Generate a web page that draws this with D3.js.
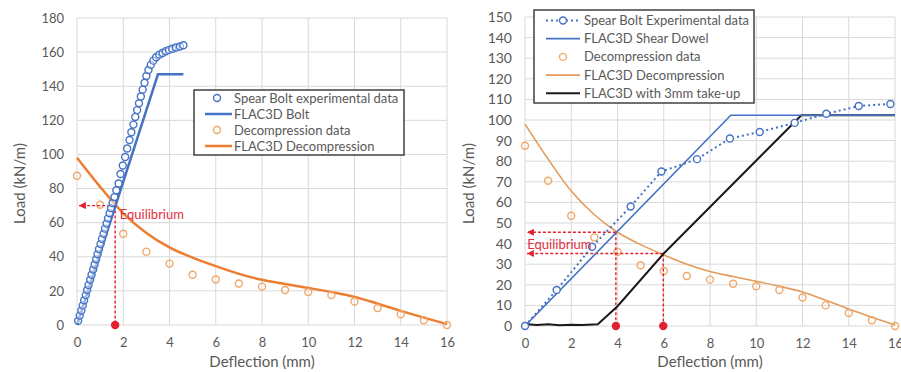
<!DOCTYPE html>
<html><head><meta charset="utf-8">
<script src="https://cdn.jsdelivr.net/npm/d3@7"></script>
<style>
body{margin:0;background:#fff;}
svg text{font-family:Lato,"Open Sans",sans-serif;fill:#595959;}
</style></head><body>
<svg id="c" width="901" height="372"></svg>
<script>
// ---------- DATA ----------
const xTicks = [0,2,4,6,8,10,12,14,16];
const leftYTicks = [0,20,40,60,80,100,120,140,160,180];
const rightYTicks = [0,10,20,30,40,50,60,70,80,90,100,110,120,130,140,150];

// Left chart
const spearBoltExp = [
 [0.05,2.5],[0.12,5.5],[0.19,8.5],[0.25,11.5],[0.31,14.5],[0.38,17.5],[0.44,20.5],[0.50,23.5],
 [0.57,26.5],[0.63,29.5],[0.70,32.5],[0.76,35.5],[0.83,38.5],[0.89,41.5],[0.95,44.5],[1.02,47.5],
 [1.08,50.5],[1.15,53.5],[1.21,56.5],[1.28,59.5],[1.34,62.5],[1.41,65.5],[1.47,68.5],[1.54,71.5],
 [1.62,75],[1.70,79],[1.80,83],[1.88,88.5],[1.98,93.5],[2.08,98.5],[2.17,103.5],[2.27,108.5],
 [2.35,113],[2.44,117.5],[2.52,122],[2.60,126],[2.68,130],[2.76,134],[2.84,138],[2.92,142],
 [3.00,146],[3.09,149.5],[3.19,152.5],[3.30,155],[3.42,157],[3.56,158.5],[3.70,159.5],[3.84,160.5],
 [3.98,161.3],[4.12,162],[4.28,162.7],[4.45,163.3],[4.60,164]
];
const flacBolt = [[0,0],[3.5,147],[4.6,147]];
const decompData = [
 [0,87.5],[1,70.5],[2,53.5],[3,43],[4,36],[5,29.5],[6,26.7],[7,24.3],[8,22.5],
 [9,20.5],[10,19.3],[11,17.5],[12,13.8],[13,10],[14,6.3],[15,2.8],[16,0]
];
const flacDecomp = [
 [0,98],[1,81],[2,65.5],[3,54],[4,45.5],[5,39.5],[6,34.5],[7,30],[8,26.5],[9,24],
 [10,21.7],[11,19.3],[12,16.5],[13,12.5],[14,8.3],[15,4.3],[16,0.5]
];
const leftEquilibrium = [[1.65,70]];

// Right chart
const spearBoltExpR = [
 [0,0],[1.37,17.5],[2.9,38.5],[4.57,58],[5.9,75],[7.44,81],[8.86,91],[10.15,94.2],
 [11.66,98.6],[13.03,103],[14.43,106.8],[15.8,107.8]
];
const flacShearDowel = [[0,0],[8.9,102.3],[16,102.3]];
const flacTakeUp = [
 [0,1],[0.5,0.5],[1,0.8],[1.5,0.4],[2,0.6],[2.5,0.5],[3.15,0.9],[4,9.6],[6,35.2],[11.95,102.3],[16,102.3]
];
const rightEquilibrium = [[3.93,45.5],[5.98,35.2]];

const legendLeft = ["Spear Bolt experimental data","FLAC3D Bolt","Decompression data","FLAC3D Decompression"];
const legendRight = ["Spear Bolt Experimental data","FLAC3D Shear Dowel","Decompression data","FLAC3D Decompression","FLAC3D with 3mm take-up"];

// ---------- STYLE ----------
const BLUE="#4472c4", ORANGE="#ed7d31", ORANGE_L="#e39a5a", ORANGE_PT="#efa86a", BLACK="#1a1a1a", RED="#e2202f", GRID="#d9d9d9";

const svg = d3.select("#c");
const defs = svg.append("defs");
defs.append("marker").attr("id","arr").attr("viewBox","0 0 10 10").attr("refX",10).attr("refY",5)
  .attr("markerWidth",5).attr("markerHeight",5).attr("markerUnits","strokeWidth").attr("orient","auto")
  .append("path").attr("d","M0,0 L10,5 L0,10 Z").attr("fill",RED);

function panel(opts){
  const g = svg.append("g");
  const x = d3.scaleLinear().domain([0,16]).range(opts.xr);
  const y = d3.scaleLinear().domain([0,opts.ymax]).range(opts.yr);
  g.append("g").selectAll("line").data(opts.yTicks).join("line")
    .attr("x1",x(0)).attr("x2",x(16)).attr("y1",d=>y(d)).attr("y2",d=>y(d))
    .attr("stroke",GRID).attr("stroke-width",1);
  g.append("g").selectAll("line").data(xTicks).join("line")
    .attr("y1",y(0)).attr("y2",y(opts.ymax)).attr("x1",d=>x(d)).attr("x2",d=>x(d))
    .attr("stroke",GRID).attr("stroke-width",1);
  const ax = g.append("g").attr("transform",`translate(0,${y(0)})`)
    .call(d3.axisBottom(x).tickValues(xTicks).tickSize(0).tickPadding(13));
  ax.select(".domain").remove();
  ax.selectAll("text").attr("font-size",13).attr("fill","#595959");
  const ay = g.append("g").attr("transform",`translate(${x(0)},0)`)
    .call(d3.axisLeft(y).tickValues(opts.yTicks).tickSize(0).tickPadding(opts.ypad));
  ay.select(".domain").remove();
  ay.selectAll("text").attr("font-size",opts.yfs).attr("fill","#595959");
  g.append("text").attr("x",(x(0)+x(16))/2).attr("y",367).attr("text-anchor","middle")
    .attr("font-size",15).text("Deflection (mm)");
  g.append("text").attr("transform",`translate(${opts.ylx},${(y(0)+y(opts.ymax))/2+12}) rotate(-90)`)
    .attr("text-anchor","middle").attr("font-size",15).text("Load (kN/m)");
  return {g,x,y};
}

function equilibrium(g,x,y,list){
  list.forEach(e=>{
    g.append("line").attr("x1",x(e[0])).attr("y1",y(e[1])).attr("x2",x(0.08)).attr("y2",y(e[1]))
      .attr("stroke",RED).attr("stroke-width",1.4).attr("stroke-dasharray","3,2").attr("marker-end","url(#arr)");
    g.append("line").attr("x1",x(e[0])).attr("y1",y(e[1])).attr("x2",x(e[0])).attr("y2",y(0))
      .attr("stroke",RED).attr("stroke-width",1.4).attr("stroke-dasharray","3,2");
    g.append("circle").attr("cx",x(e[0])).attr("cy",y(0)).attr("r",4.2).attr("fill",RED);
  });
}

// ---------- LEFT ----------
(function(){
  const {g,x,y} = panel({xr:[77,447],yr:[325,18],ymax:180,yTicks:leftYTicks,ypad:13,yfs:13,ylx:25});
  const line = d3.line().x(d=>x(d[0])).y(d=>y(d[1]));
  const smooth = d3.line().x(d=>x(d[0])).y(d=>y(d[1])).curve(d3.curveMonotoneX);
  g.append("path").attr("d",smooth(flacDecomp)).attr("fill","none").attr("stroke",ORANGE).attr("stroke-width",2.5);
  g.append("g").selectAll("circle").data(decompData).join("circle")
    .attr("cx",d=>x(d[0])).attr("cy",d=>y(d[1])).attr("r",3.5)
    .attr("fill","none").attr("stroke",ORANGE_PT).attr("stroke-width",1.4);
  equilibrium(g,x,y,leftEquilibrium);
  g.append("path").attr("d",line(flacBolt)).attr("fill","none").attr("stroke",BLUE).attr("stroke-width",2.5);
  g.append("g").selectAll("circle").data(spearBoltExp).join("circle")
    .attr("cx",d=>x(d[0])).attr("cy",d=>y(d[1])).attr("r",3.5)
    .attr("fill","#fff").attr("fill-opacity",0.5).attr("stroke",BLUE).attr("stroke-width",1.4);
  g.append("text").attr("x",x(1.85)).attr("y",y(70)+13).attr("font-size",13).style("fill","#e0303d").text("Equilibrium");
  const L = g.append("g");
  L.append("rect").attr("x",194).attr("y",90).attr("width",210).attr("height",65)
    .attr("fill","#fff").attr("stroke","#404040").attr("stroke-width",1.5);
  const rows = L.selectAll("g").data(legendLeft).join("g").attr("transform",(d,i)=>`translate(0,${98+i*16})`);
  rows.append("text").attr("x",234).attr("y",4.5).attr("font-size",13).text(d=>d);
  rows.each(function(d,i){
    const r = d3.select(this);
    if(i===0) r.append("circle").attr("cx",217).attr("cy",0).attr("r",3.5).attr("fill","#fff").attr("stroke",BLUE).attr("stroke-width",1.4);
    if(i===1) r.append("line").attr("x1",205).attr("x2",232).attr("stroke",BLUE).attr("stroke-width",2.5);
    if(i===2) r.append("circle").attr("cx",217).attr("cy",0).attr("r",3.5).attr("fill","none").attr("stroke",ORANGE_PT).attr("stroke-width",1.4);
    if(i===3) r.append("line").attr("x1",205).attr("x2",232).attr("stroke",ORANGE).attr("stroke-width",2.5);
  });
})();

// ---------- RIGHT ----------
(function(){
  const {g,x,y} = panel({xr:[525,895],yr:[326,17],ymax:150,yTicks:rightYTicks,ypad:13,yfs:14,ylx:474});
  const line = d3.line().x(d=>x(d[0])).y(d=>y(d[1]));
  const smooth = d3.line().x(d=>x(d[0])).y(d=>y(d[1])).curve(d3.curveMonotoneX);
  g.append("path").attr("d",smooth(flacDecomp)).attr("fill","none").attr("stroke",ORANGE_L).attr("stroke-width",1.6);
  g.append("g").selectAll("circle").data(decompData).join("circle")
    .attr("cx",d=>x(d[0])).attr("cy",d=>y(d[1])).attr("r",3.5)
    .attr("fill","none").attr("stroke",ORANGE_PT).attr("stroke-width",1.4);
  equilibrium(g,x,y,rightEquilibrium);
  g.append("path").attr("d",line(flacTakeUp)).attr("fill","none").attr("stroke",BLACK).attr("stroke-width",2);
  g.append("path").attr("d",line(flacShearDowel)).attr("fill","none").attr("stroke",BLUE).attr("stroke-width",1.6);
  g.append("path").attr("d",line(spearBoltExpR)).attr("fill","none").attr("stroke",BLUE).attr("stroke-width",2).attr("stroke-dasharray","2,3");
  g.append("g").selectAll("circle").data(spearBoltExpR).join("circle")
    .attr("cx",d=>x(d[0])).attr("cy",d=>y(d[1])).attr("r",3.5)
    .attr("fill","#fff").attr("stroke",BLUE).attr("stroke-width",1.4);
  g.append("text").attr("x",x(0.1)).attr("y",y(40)+5).attr("font-size",13).style("fill","#e0303d").text("Equilibrium");
  const L = g.append("g");
  L.append("rect").attr("x",534).attr("y",10).attr("width",220).attr("height",93)
    .attr("fill","#fff").attr("stroke","#404040").attr("stroke-width",1.5);
  const rows = L.selectAll("g").data(legendRight).join("g").attr("transform",(d,i)=>`translate(0,${20.5+i*18.2})`);
  rows.append("text").attr("x",584).attr("y",4.5).attr("font-size",13).text(d=>d);
  rows.each(function(d,i){
    const r = d3.select(this);
    if(i===0){
      r.append("line").attr("x1",546).attr("x2",580).attr("stroke",BLUE).attr("stroke-width",2).attr("stroke-dasharray","2,3");
      r.append("circle").attr("cx",563).attr("cy",0).attr("r",3.5).attr("fill","#fff").attr("stroke",BLUE).attr("stroke-width",1.4);
    }
    if(i===1) r.append("line").attr("x1",546).attr("x2",580).attr("stroke",BLUE).attr("stroke-width",1.8);
    if(i===2) r.append("circle").attr("cx",563).attr("cy",0).attr("r",3.5).attr("fill","none").attr("stroke",ORANGE_PT).attr("stroke-width",1.4);
    if(i===3) r.append("line").attr("x1",546).attr("x2",580).attr("stroke",ORANGE_L).attr("stroke-width",1.8);
    if(i===4) r.append("line").attr("x1",546).attr("x2",580).attr("stroke",BLACK).attr("stroke-width",2);
  });
})();
</script></body></html>
